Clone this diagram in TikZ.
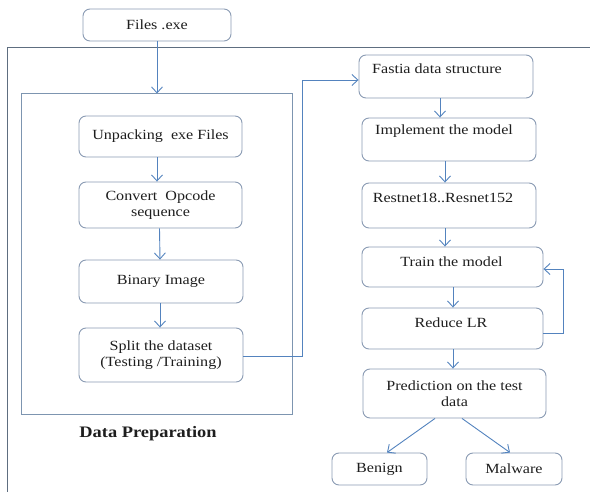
\documentclass[tikz,border=0pt]{standalone}
\usepackage{fontspec}
\setmainfont[FakeStretch=1.15]{Liberation Serif}
\usetikzlibrary{arrows.meta}
\definecolor{boxc}{HTML}{8A9BB3}
\definecolor{arrc}{HTML}{5383BE}
\definecolor{framec}{HTML}{5E6E80}
\definecolor{innerc}{HTML}{7D95B0}
\definecolor{txtc}{HTML}{1E1E1E}
\tikzset{
  box/.style={draw=boxc, line width=0.9pt, rounded corners=7pt, fill=white, inner sep=0pt, align=center, text=txtc, font=\fontsize{14}{16.5}\selectfont},
  lbl/.style={inner sep=0pt, align=center, text=txtc, font=\fontsize{14}{16.5}\selectfont},
  arr/.style={draw=arrc, line width=0.9pt, -{Straight Barb[length=6pt,width=11pt,line width=0.9pt]}},
}
\begin{document}
\begin{tikzpicture}[x=1pt,y=-1pt]
\useasboundingbox (0,0) rectangle (590,492);
% outer frame (open to right and bottom)
\draw[draw=framec, line width=1pt] (590,48) -- (7,48) -- (7,492);
% inner data preparation frame
\node[draw=innerc, line width=1pt, minimum width=271pt, minimum height=320pt, inner sep=0pt] (prep) at (156.5,254) {};
\node[inner sep=0pt, font=\fontsize{16}{18}\selectfont\bfseries, text=txtc] (preptitle) at (148,434) {Data Preparation};

% left column
\node[box, minimum width=148pt, minimum height=32pt] (files) at (157,25) {Files .exe};
\node[box, minimum width=163pt, minimum height=41pt] (unpack) at (160.5,136.5) {Unpacking~ exe Files};
\node[box, minimum width=163pt, minimum height=46pt] (convert) at (160.5,205) {Convert~ Opcode\\sequence};
\node[box, minimum width=164pt, minimum height=43pt] (binary) at (161,281.5) {Binary Image};
\node[box, minimum width=164pt, minimum height=54pt] (split) at (161,355) {Split the dataset\\(Testing /Training)};

% right column
\node[box, minimum width=174pt, minimum height=43pt] (fastia) at (446,76.5) {};
\node[lbl] (fastiaT) at (437,69) {Fastia data structure};
\node[box, minimum width=174pt, minimum height=43pt] (impl) at (449,139.5) {};
\node[lbl] (implT) at (444,131) {Implement the model};
\node[box, minimum width=174pt, minimum height=45pt] (resnet) at (449,205.5) {};
\node[lbl] (resnetT) at (443,198) {Restnet18..Resnet152};
\node[box, minimum width=181pt, minimum height=40pt] (train) at (452.5,267) {};
\node[lbl] (trainT) at (451.5,262) {Train the model};
\node[box, minimum width=181pt, minimum height=41pt] (reduce) at (452.5,328.5) {};
\node[lbl] (reduceT) at (451,323) {Reduce LR};
\node[box, minimum width=183pt, minimum height=49pt] (pred) at (454.5,393.5) {Prediction on the test\\data};
\node[box, minimum width=95pt, minimum height=32pt] (benign) at (379.5,469) {Benign};
\node[box, minimum width=96pt, minimum height=32pt] (malware) at (514,469) {Malware};

% connectors
\draw[arr] (files.south) -- (files.south |- prep.north);
\draw[arr] ([xshift=-3.5pt]unpack.south) -- ([xshift=-3.5pt]convert.north);
\draw[arr] ([xshift=-1pt]convert.south) -- ([xshift=-1pt]binary.north);
\draw[arr] ([xshift=-1pt]binary.south) -- ([xshift=-1pt]split.north);
\draw[arr] ([yshift=-1pt]split.east) -- ++(59,0) |- ([yshift=-3.5pt]fastia.west);
\draw[arr] ([xshift=-6pt]fastia.south) -- ([xshift=-9pt]impl.north);
\draw[arr] ([xshift=-4pt]impl.south) -- ([xshift=-4pt]resnet.north);
\draw[arr] ([xshift=-4pt]resnet.south) -- ([xshift=-7.5pt]train.north);
\draw[arr] ([xshift=0.5pt]train.south) -- ([xshift=0.5pt]reduce.north);
\draw[arr] ([xshift=0.5pt]reduce.south) -- ([xshift=-1.5pt]pred.north);
\draw[arr] ([yshift=-4.5pt]reduce.east) -- ++(20,0) |- ([yshift=-2pt]train.east);
\draw[arr] ([xshift=-19.5pt]pred.south) -- ([xshift=7.5pt]benign.north);
\draw[arr] ([xshift=7.5pt]pred.south) -- ([xshift=-4pt]malware.north);
\end{tikzpicture}
\end{document}
